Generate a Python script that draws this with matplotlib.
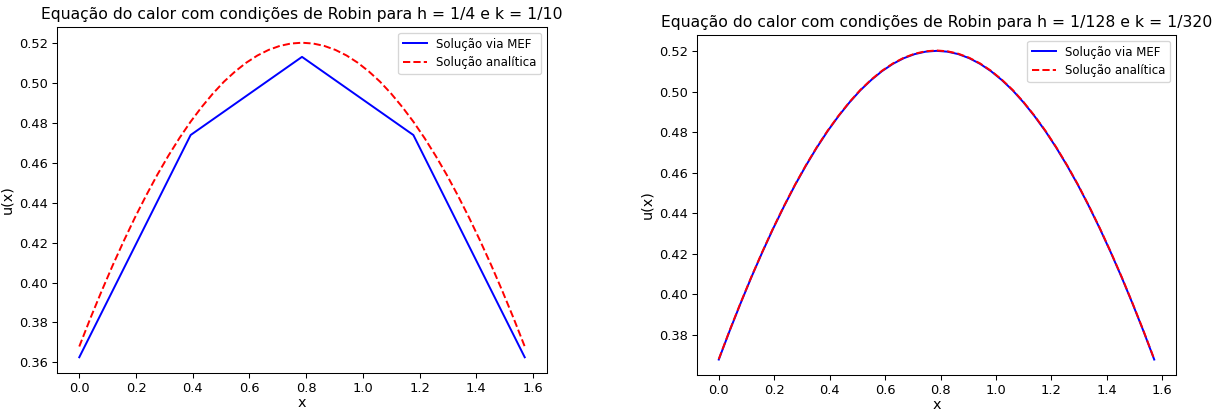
import matplotlib
matplotlib.use("Agg")
import matplotlib.pyplot as plt

# Left panel: h = 1/4 (5 nodes on [0, pi/2])
x_mef_coarse = [0.0, 0.3927, 0.7854, 1.1781, 1.5708]
u_mef_coarse = [0.3625, 0.4740, 0.5132, 0.4740, 0.3625]

# Analytical solution (x in [0, pi/2])
x_curve = [0.0, 0.0393, 0.0785, 0.1178, 0.1571, 0.1963, 0.2356, 0.2749, 0.3142,
           0.3534, 0.3927, 0.4320, 0.4712, 0.5105, 0.5498, 0.5890, 0.6283,
           0.6676, 0.7069, 0.7461, 0.7854, 0.8247, 0.8639, 0.9032, 0.9425,
           0.9817, 1.0210, 1.0603, 1.0996, 1.1388, 1.1781, 1.2174, 1.2566,
           1.2959, 1.3352, 1.3744, 1.4137, 1.4530, 1.4923, 1.5315, 1.5708]
u_analytic = [0.3679, 0.3821, 0.3956, 0.4086, 0.4209, 0.4326, 0.4436, 0.4540,
              0.4636, 0.4725, 0.4807, 0.4881, 0.4948, 0.5008, 0.5059, 0.5103,
              0.5139, 0.5167, 0.5187, 0.5199, 0.5203, 0.5199, 0.5187, 0.5167,
              0.5139, 0.5103, 0.5059, 0.5008, 0.4948, 0.4881, 0.4807, 0.4725,
              0.4636, 0.4540, 0.4436, 0.4326, 0.4209, 0.4086, 0.3956, 0.3821,
              0.3679]

# Right panel: h = 1/128, MEF practically on top of the analytical curve
u_mef_fine = [0.3677, 0.3819, 0.3954, 0.4084, 0.4207, 0.4324, 0.4434, 0.4538,
              0.4634, 0.4723, 0.4805, 0.4879, 0.4946, 0.5006, 0.5057, 0.5101,
              0.5137, 0.5165, 0.5185, 0.5197, 0.5201, 0.5197, 0.5185, 0.5165,
              0.5137, 0.5101, 0.5057, 0.5006, 0.4946, 0.4879, 0.4805, 0.4723,
              0.4634, 0.4538, 0.4434, 0.4324, 0.4207, 0.4084, 0.3954, 0.3819,
              0.3677]

titles = ["Equação do calor com condições de Robin para h = 1/4 e k = 1/10",
          "Equação do calor com condições de Robin para h = 1/128 e k = 1/320"]
xticks = [0.0, 0.2, 0.4, 0.6, 0.8, 1.0, 1.2, 1.4, 1.6]

W, H = 1217, 412
DPI = 94
fig = plt.figure(figsize=(W / DPI, H / DPI), dpi=DPI)

def px_axes(x0, x1, y0, y1):
    return fig.add_axes([x0 / W, 1 - y1 / H, (x1 - x0) / W, (y1 - y0) / H])

ax1 = px_axes(57, 547, 27, 373)
ax2 = px_axes(697, 1176, 35, 375)

ax1.plot(x_mef_coarse, u_mef_coarse, 'b-', label='Solução via MEF')
ax1.plot(x_curve, u_analytic, 'r--', label='Solução analítica')

ax2.plot(x_curve, u_mef_fine, 'b-', label='Solução via MEF')
ax2.plot(x_curve, u_analytic, 'r--', label='Solução analítica')

for ax, t in zip([ax1, ax2], titles):
    ax.set_title(t, fontsize=12)
    ax.set_xlabel('x', fontsize=11, labelpad=1)
    ax.set_ylabel('u(x)', fontsize=11)
    ax.legend(loc='upper right', fontsize=9)
    ax.set_xticks(xticks)

fig.savefig("out.png", dpi=DPI)
